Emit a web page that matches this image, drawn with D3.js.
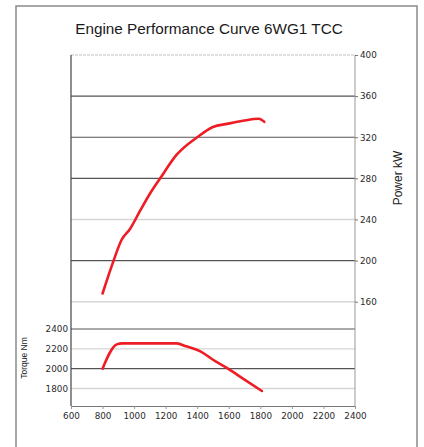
<!DOCTYPE html>
<html lang="en">
<head>
    <meta charset="UTF-8">
    <title>Engine Performance Curve 6WG1 TCC</title>
    <script src="https://d3js.org/d3.v7.min.js"></script>
    <style>
        body {
            margin: 0;
            background: #ffffff;
            font-family: "Liberation Sans", Arial, sans-serif;
        }
        .tick text {
            font-family: "DejaVu Sans", Verdana, sans-serif;
            font-size: 8.8px;
            fill: #2a2a2a;
        }
        .curve {
            fill: none;
            stroke: #ee1c24;
            stroke-width: 2.6;
            stroke-linecap: round;
            stroke-linejoin: round;
        }
    </style>
</head>
<body>
<svg id="chart"></svg>
<script>
    const width = 424;
    const height = 447;

    // engine speed (rpm) for both curves
    const rpmTicks = [600, 800, 1000, 1200, 1400, 1600, 1800, 2000, 2200, 2400];
    const powerTicks = [160, 200, 240, 280, 320, 360, 400];
    const torqueTicks = [1800, 2000, 2200, 2400];

    // power curve, kW
    const powerRpm = [800, 870, 920, 975, 1040, 1100, 1165, 1270, 1400, 1500, 1590, 1690, 1790, 1825];
    const powerKW  = [168, 200, 220, 231, 249, 265, 280, 303, 320, 330, 333, 336, 338, 335];

    // torque curve, Nm
    const torqueRpm = [800, 890, 925, 1270, 1330, 1420, 1500, 1590, 1690, 1810];
    const torqueNm  = [2000, 2245, 2255, 2255, 2225, 2175, 2090, 2005, 1900, 1775];

    const plotLeft = 71, plotRight = 355, plotTop = 55, plotBottom = 406;

    const svg = d3.select("#chart")
        .attr("width", width)
        .attr("height", height);

    // outer frame of the sheet
    svg.append("rect")
        .attr("x", 16).attr("y", 6)
        .attr("width", 401).attr("height", 460)
        .attr("fill", "none")
        .attr("stroke", "#8a8a8a")
        .attr("stroke-width", 1.5);

    svg.append("text")
        .attr("x", 209).attr("y", 34)
        .attr("text-anchor", "middle")
        .style("font-size", "15.3px")
        .style("fill", "#1a1a1a")
        .text("Engine Performance Curve 6WG1 TCC");

    const x = d3.scaleLinear().domain([600, 2400]).range([plotLeft, plotRight]);
    const yPower = d3.scaleLinear().domain([160, 400]).range([301.7, plotTop]);
    const yTorque = d3.scaleLinear().domain([1800, 2400]).range([388.5, 329]);

    // gridlines (scanned chart: some are dark, some faint)
    const darkPower = new Set([360, 320, 280, 200]);
    const darkTorque = new Set([2400, 2000]);

    svg.append("g").selectAll("line")
        .data(powerTicks)
        .join("line")
        .attr("x1", plotLeft).attr("x2", plotRight)
        .attr("y1", d => yPower(d)).attr("y2", d => yPower(d))
        .attr("stroke", d => darkPower.has(d) ? "#555" : "#d6d6d6")
        .attr("stroke-width", d => darkPower.has(d) ? 1.2 : 1.4)
        .attr("stroke-dasharray", d => d === 400 ? "3,1" : null);

    svg.append("g").selectAll("line")
        .data(torqueTicks)
        .join("line")
        .attr("x1", plotLeft).attr("x2", plotRight)
        .attr("y1", d => yTorque(d)).attr("y2", d => yTorque(d))
        .attr("stroke", d => darkTorque.has(d) ? "#555" : "#d6d6d6")
        .attr("stroke-width", d => darkTorque.has(d) ? 1.2 : 1.4);

    // frame lines of the plot area
    svg.append("line")
        .attr("x1", plotLeft).attr("x2", plotLeft).attr("y1", plotTop).attr("y2", plotBottom)
        .attr("stroke", "#444").attr("stroke-width", 1.2);
    svg.append("line")
        .attr("x1", plotRight).attr("x2", plotRight).attr("y1", plotTop).attr("y2", plotBottom)
        .attr("stroke", "#999").attr("stroke-width", 1);

    // axes
    const fmt = d3.format("d");

    const xAxis = svg.append("g")
        .attr("transform", `translate(0,${plotBottom})`)
        .call(d3.axisBottom(x).tickValues(rpmTicks).tickFormat(fmt).tickSize(3).tickPadding(4));
    xAxis.select(".domain").attr("stroke", "#777");
    xAxis.selectAll(".tick line").attr("stroke", "#999");

    const powerAxis = svg.append("g")
        .attr("transform", `translate(${plotRight},0)`)
        .call(d3.axisRight(yPower).tickValues(powerTicks).tickFormat(fmt).tickSize(3).tickPadding(2));
    powerAxis.select(".domain").remove();
    powerAxis.selectAll(".tick line").attr("stroke", "#777");

    const torqueAxis = svg.append("g")
        .attr("transform", `translate(${plotLeft},0)`)
        .call(d3.axisLeft(yTorque).tickValues(torqueTicks).tickFormat(fmt).tickSize(0).tickPadding(3));
    torqueAxis.select(".domain").remove();

    // axis titles
    svg.append("text")
        .attr("transform", "translate(402,178) rotate(-90)")
        .attr("text-anchor", "middle")
        .style("font-size", "12px")
        .style("fill", "#222")
        .text("Power kW");

    svg.append("text")
        .attr("transform", "translate(27,358) rotate(-90)")
        .attr("text-anchor", "middle")
        .style("font-size", "8.5px")
        .style("fill", "#222")
        .text("Torque Nm");

    // curves
    const powerLine = d3.line()
        .x((d, i) => x(powerRpm[i]))
        .y(d => yPower(d))
        .curve(d3.curveMonotoneX);

    const torqueLine = d3.line()
        .x((d, i) => x(torqueRpm[i]))
        .y(d => yTorque(d))
        .curve(d3.curveMonotoneX);

    svg.append("path")
        .attr("class", "curve")
        .attr("d", powerLine(powerKW));

    svg.append("path")
        .attr("class", "curve")
        .attr("d", torqueLine(torqueNm));
</script>
</body>
</html>
